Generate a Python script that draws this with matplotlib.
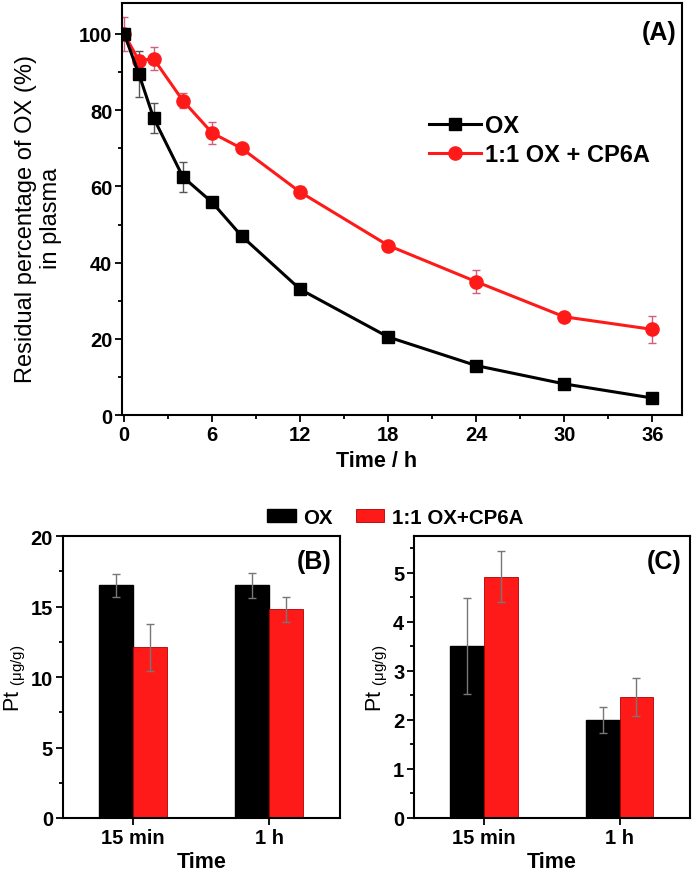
import numpy as np
import matplotlib
matplotlib.use("Agg")
import matplotlib.pyplot as plt
from matplotlib.ticker import MultipleLocator

plt.rcParams['font.family'] = ['Liberation Sans', 'DejaVu Sans']

# panel A data
time_h = [0, 1, 2, 4, 6, 8, 12, 18, 24, 30, 36]
ox = [100, 89.5, 78, 62.5, 55.8, 47, 33, 20.5, 13, 8.2, 4.5]
ox_err = [0, 6, 4, 4, 0, 0, 0, 0, 0, 0, 0]
cp6a = [100, 93, 93.5, 82.5, 74, 70, 58.5, 44.5, 35, 25.8, 22.5]
cp6a_err = [4.5, 1.5, 3, 2, 3, 0, 1.5, 0, 3, 0, 3.5]

# panel B / C data
categories = ['15 min', '1 h']
b_ox = [16.5, 16.5]
b_ox_err = [0.8, 0.9]
b_cp = [12.1, 14.8]
b_cp_err = [1.7, 0.9]
c_ox = [3.5, 2.0]
c_ox_err = [0.98, 0.27]
c_cp = [4.92, 2.47]
c_cp_err = [0.52, 0.38]

RED = '#ff1a1a'
TICK_FS = 14.5

fig = plt.figure(figsize=(6.97, 8.78), dpi=100)

def style_axes(ax):
    for s in ax.spines.values():
        s.set_linewidth(1.5)
    ax.tick_params(which='both', direction='out', width=1.3, top=False, right=False)
    ax.tick_params(which='major', length=5, labelsize=TICK_FS, pad=2)
    ax.tick_params(which='minor', length=3)
    for lab in ax.get_xticklabels() + ax.get_yticklabels():
        lab.set_fontweight('bold')

# ---- panel A
axA = fig.add_axes([0.175, 0.526, 0.803, 0.469])
axA.errorbar(time_h, ox, yerr=ox_err, fmt='none', ecolor='#555555',
             elinewidth=1, capsize=3, zorder=2)
axA.errorbar(time_h, cp6a, yerr=cp6a_err, fmt='none', ecolor='#d0607a',
             elinewidth=1, capsize=3, zorder=1)
axA.plot(time_h, cp6a, color=RED, marker='o', ms=9.5, lw=2.2,
         label='1:1 OX + CP6A', zorder=2)
axA.plot(time_h, ox, color='black', marker='s', ms=8.5, lw=2.2, label='OX', zorder=3)
axA.set_xlim(-0.15, 38)
axA.set_ylim(0, 108)
axA.xaxis.set_major_locator(MultipleLocator(6))
axA.xaxis.set_minor_locator(MultipleLocator(3))
axA.yaxis.set_major_locator(MultipleLocator(20))
axA.yaxis.set_minor_locator(MultipleLocator(10))
axA.set_xlabel('Time / h', fontsize=15.5, fontweight='bold')
axA.xaxis.set_label_coords(0.455, -0.085)
axA.set_ylabel('Residual percentage of OX (%)\nin plasma', fontsize=17, linespacing=1.2)
axA.yaxis.set_label_coords(-0.107, 0.48)
style_axes(axA)
axA.text(0.99, 0.96, '(A)', transform=axA.transAxes, ha='right', va='top',
         fontsize=18, fontweight='bold')
h, l = axA.get_legend_handles_labels()
leg = axA.legend(h[::-1], l[::-1], loc='upper left', bbox_to_anchor=(0.51, 0.783),
                 frameon=False, fontsize=17, handlelength=2.2, handletextpad=0.2,
                 labelspacing=0.25)
for t in leg.get_texts():
    t.set_fontweight('bold')

# ---- panels B and C
x = np.arange(len(categories))
w = 0.25

def bar_panel(rect, ox_v, ox_e, cp_v, cp_e, ylim, major, minor, tag):
    ax = fig.add_axes(rect)
    ax.bar(x - w, ox_v, w, align='edge', color='black', edgecolor='black', label='OX')
    ax.bar(x, cp_v, w, align='edge', color=RED, edgecolor='#b00000', lw=0.6,
           label='1:1 OX+CP6A')
    ax.errorbar(x - w / 2, ox_v, yerr=ox_e, fmt='none', ecolor='#777777',
                elinewidth=1, capsize=3)
    ax.errorbar(x + w / 2, cp_v, yerr=cp_e, fmt='none', ecolor='#777777',
                elinewidth=1, capsize=3)
    ax.set_xlim(-0.515, 1.52)
    ax.set_ylim(*ylim)
    ax.set_xticks(x)
    ax.set_xticklabels(categories)
    ax.yaxis.set_major_locator(MultipleLocator(major))
    ax.yaxis.set_minor_locator(MultipleLocator(minor))
    ax.set_xlabel('Time', fontsize=15.5, fontweight='bold', labelpad=3)
    ax.set_ylabel(r'Pt $\mathregular{_{(\mu g/g)}}$', fontsize=15.5, labelpad=2)
    style_axes(ax)
    ax.text(0.97, 0.955, tag, transform=ax.transAxes, ha='right', va='top',
            fontsize=18, fontweight='bold')
    return ax

axB = bar_panel([0.090, 0.0672, 0.398, 0.321], b_ox, b_ox_err, b_cp, b_cp_err,
                (0, 20), 5, 2.5, '(B)')
axC = bar_panel([0.594, 0.0672, 0.396, 0.321], c_ox, c_ox_err, c_cp, c_cp_err,
                (0, 5.75), 1, 0.5, '(C)')

handles, labels = axB.get_legend_handles_labels()
leg2 = fig.legend(handles, labels, loc='center', bbox_to_anchor=(0.567, 0.41), ncol=2,
                  frameon=False, fontsize=14.8, handlelength=1.4, handleheight=0.6,
                  handletextpad=0.35, columnspacing=1.1)
for t in leg2.get_texts():
    t.set_fontweight('bold')

fig.savefig('out.png', dpi=100)
